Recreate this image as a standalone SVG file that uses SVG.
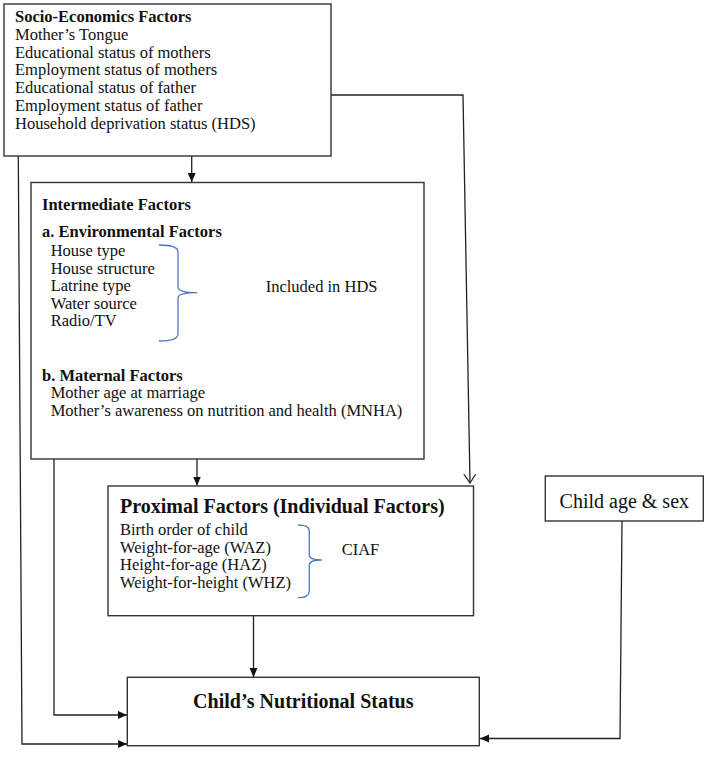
<svg xmlns="http://www.w3.org/2000/svg" width="708" height="757" viewBox="0 0 708 757">
<defs>
<style>
text{font-family:"Liberation Serif","Times New Roman",serif;fill:#111;}
.t{font-size:16.5px;}
.b{font-size:16.5px;font-weight:bold;}
.h{font-size:20px;font-weight:bold;}
.box{fill:#fff;stroke:#333;stroke-width:1.4;}
.con{fill:none;stroke:#222;stroke-width:1.3;}
.br{fill:none;stroke:#4a78c8;stroke-width:1.3;}
</style>
<marker id="ah" markerUnits="userSpaceOnUse" markerWidth="10" markerHeight="10" refX="9" refY="4" orient="auto">
<path d="M0,0 L9,4 L0,8 z" fill="#111"/>
</marker>
<marker id="av" markerUnits="userSpaceOnUse" markerWidth="12" markerHeight="14" refX="9" refY="6" orient="auto">
<path d="M0,0 L9,6 L0,12" fill="none" stroke="#333" stroke-width="1.3"/>
</marker>
</defs>
<rect width="708" height="757" fill="#fff"/>
<g id="connectors">
<path class="con" d="M331,95 L463,95 L470,483" marker-end="url(#av)"/>
<path class="con" d="M191.7,156 L191.7,182" marker-end="url(#ah)"/>
<path class="con" d="M197,459 L197,485.5" marker-end="url(#ah)"/>
<path class="con" d="M253.5,616 L253.5,677" marker-end="url(#ah)"/>
<path class="con" d="M18.3,156 L22,744 L127,744" marker-end="url(#ah)"/>
<path class="con" d="M54,459 L54,715 L127,715" marker-end="url(#ah)"/>
<path class="con" d="M622,521 L620,738.5 L480,738.5" marker-end="url(#ah)"/>
</g>
<g id="socio">
<rect class="box" x="4" y="4" width="327" height="152"/>
<text class="b" x="15" y="22">Socio-Economics Factors</text>
<text class="t" x="15" y="39.8">Mother’s Tongue</text>
<text class="t" x="15" y="57.6">Educational status of mothers</text>
<text class="t" x="15" y="75.4">Employment status of mothers</text>
<text class="t" x="15" y="93.2">Educational status of father</text>
<text class="t" x="15" y="111">Employment status of father</text>
<text class="t" x="15" y="128.8">Household deprivation status (HDS)</text>
</g>
<g id="intermediate">
<rect class="box" x="31" y="182.5" width="393" height="276.5"/>
<text class="b" x="42" y="210">Intermediate Factors</text>
<text class="b" x="42" y="237">a. Environmental Factors</text>
<text class="t" x="50.7" y="256">House type</text>
<text class="t" x="50.7" y="273.6">House structure</text>
<text class="t" x="50.7" y="291.2">Latrine type</text>
<text class="t" x="50.7" y="308.8">Water source</text>
<text class="t" x="50.7" y="326.4">Radio/TV</text>
<path class="br" d="M159,245 Q178,245 178,252 L178,287 Q178,292.7 197,292.7 Q178,292.7 178,298 L178,334 Q178,341 159,341"/>
<text class="t" x="265.7" y="291.7">Included in HDS</text>
<text class="b" x="42" y="380.5">b. Maternal Factors</text>
<text class="t" x="50.7" y="398">Mother age at marriage</text>
<text class="t" x="50.7" y="415.5">Mother’s awareness on nutrition and health (MNHA)</text>
</g>
<g id="proximal">
<rect class="box" x="108" y="486" width="365.5" height="129.7"/>
<text class="h" x="120" y="513.3">Proximal Factors (Individual Factors)</text>
<text class="t" x="120" y="535">Birth order of child</text>
<text class="t" x="120" y="552.5">Weight-for-age (WAZ)</text>
<text class="t" x="120" y="570">Height-for-age (HAZ)</text>
<text class="t" x="120" y="587.5">Weight-for-height (WHZ)</text>
<path class="br" d="M298,525 Q309.3,525 309.3,531 L309.3,555 Q309.3,560 321.7,560 Q309.3,560 309.3,565 L309.3,591 Q309.3,597.7 298,597.7"/>
<text class="t" x="341.7" y="555">CIAF</text>
</g>
<g id="childage">
<rect class="box" x="545.3" y="476" width="158" height="45"/>
<text class="t" style="font-size:20px" x="624.3" y="508.3" text-anchor="middle">Child age &amp; sex</text>
</g>
<g id="nutrition">
<rect class="box" x="127.3" y="677.3" width="352" height="68.4"/>
<text class="h" x="303.3" y="708.3" text-anchor="middle">Child’s Nutritional Status</text>
</g>
</svg>
